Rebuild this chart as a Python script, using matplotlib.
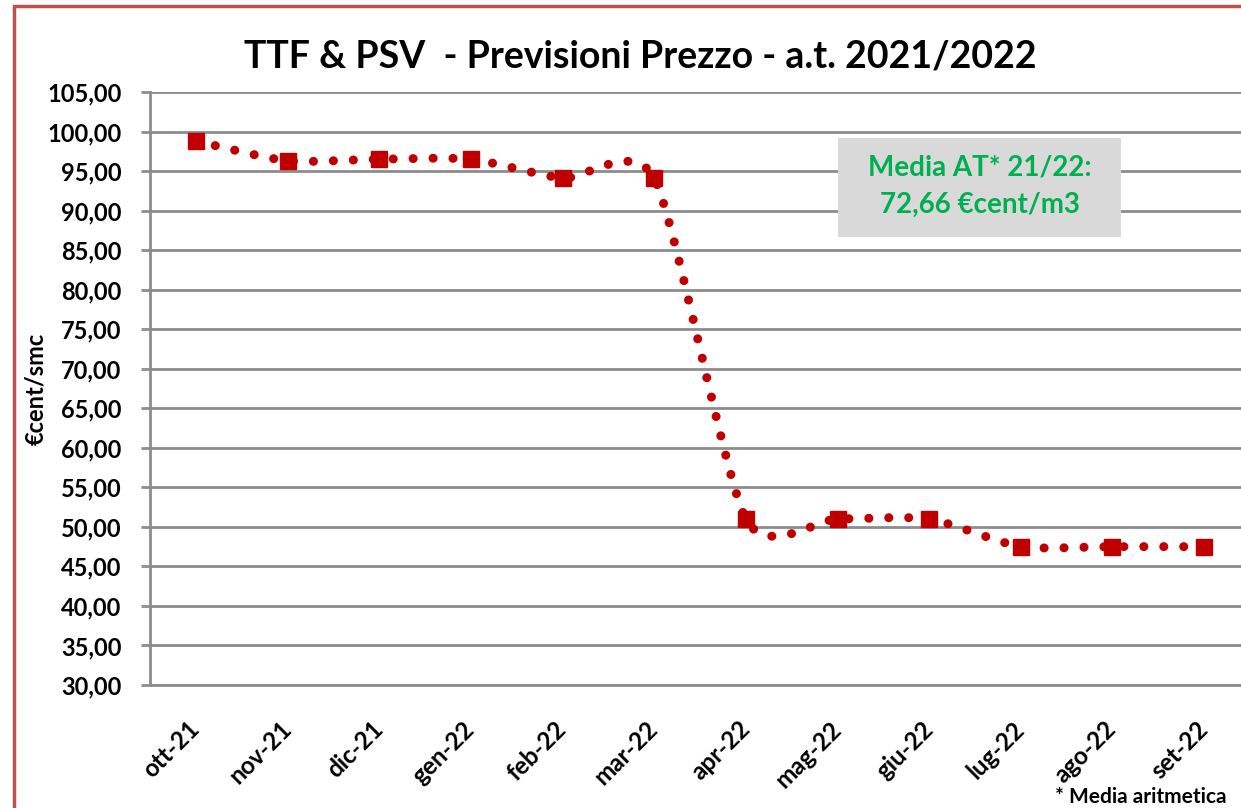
import matplotlib.pyplot as plt
from matplotlib.path import Path
from matplotlib.patches import PathPatch, Rectangle

months = ['ott-21', 'nov-21', 'dic-21', 'gen-22', 'feb-22', 'mar-22',
          'apr-22', 'mag-22', 'giu-22', 'lug-22', 'ago-22', 'set-22']
prezzo = [98.8, 96.3, 96.5, 96.5, 94.1, 94.1, 51.0, 51.0, 51.0, 47.5, 47.5, 47.5]
yticks = list(range(30, 106, 5))

red = '#C00000'
grey = '#8C8C8C'
plt.rcParams['font.family'] = ['Lato', 'DejaVu Sans']
plt.rcParams['font.weight'] = 'bold'


def smooth_path(xs, ys, k=0.115):
    # Excel-like smoothed line: bezier segments through each point
    n = len(xs)
    verts = [(xs[0], ys[0])]
    codes = [Path.MOVETO]
    for i in range(n - 1):
        x0, y0 = (xs[i - 1], ys[i - 1]) if i > 0 else (xs[i], ys[i])
        x3, y3 = (xs[i + 2], ys[i + 2]) if i + 2 < n else (xs[i + 1], ys[i + 1])
        c1 = (xs[i] + (xs[i + 1] - x0) * k, ys[i] + (ys[i + 1] - y0) * k)
        c2 = (xs[i + 1] - (x3 - xs[i]) * k, ys[i + 1] - (y3 - ys[i]) * k)
        verts += [c1, c2, (xs[i + 1], ys[i + 1])]
        codes += [Path.CURVE4] * 3
    return Path(verts, codes)


fig = plt.figure(figsize=(12.41, 8.08), dpi=100)
ax = fig.add_axes([150 / 1241, 123 / 808, 1100 / 1241, 593 / 808])

x = list(range(len(months)))
patch = PathPatch(smooth_path(x, prezzo), fill=False, edgecolor=red, lw=6.5,
                  linestyle=(0, (0.01, 2.2)), capstyle='round', zorder=3)
ax.add_patch(patch)
ax.plot(x, prezzo, linestyle='none', marker='s', markersize=12, color=red, zorder=4)

ax.set_xlim(-0.5, len(months) - 0.5)
ax.set_ylim(30, 105)
ax.set_yticks(yticks)
ax.set_yticklabels(['%d,00' % v for v in yticks], fontsize=17)
ax.set_xticks(x)
ax.set_xticklabels(months, fontsize=17.5, rotation=45, ha='right', va='center',
                   rotation_mode='anchor')
ax.tick_params(axis='x', length=0, pad=29)
ax.tick_params(axis='y', length=6.5, width=2, color=grey, pad=14)
ax.yaxis.grid(True, color=grey, lw=2)
ax.set_axisbelow(True)
for s in ['top', 'right']:
    ax.spines[s].set_visible(False)
for s in ['left', 'bottom']:
    ax.spines[s].set_color(grey)
    ax.spines[s].set_linewidth(2)
ax.set_ylabel('€cent/smc', fontsize=17, fontweight='bold', labelpad=0)

# text box with the yearly average
ax.add_patch(Rectangle((688 / 1100, 448 / 593), 283 / 1100, 99 / 593,
                       transform=ax.transAxes, facecolor='#D9D9D9',
                       edgecolor='none', zorder=5))
ax.text(830 / 1100, 498.5 / 593, 'Media AT* 21/22:\n72,66 €cent/m3',
        transform=ax.transAxes, ha='center', va='center', fontsize=20,
        color='#00B050', linespacing=1.55, zorder=6)

fig.text(640 / 1241, 1 - 67 / 808, 'TTF & PSV  - Previsioni Prezzo - a.t. 2021/2022',
         ha='center', va='baseline', fontsize=27)
fig.text(1055 / 1241, 1 - 803 / 808, '* Media aritmetica', ha='left', va='baseline',
         fontsize=15)

fig.patches.append(Rectangle((14 / 1241, -0.05), 1.2, 1 - 6 / 808 + 0.05,
                             transform=fig.transFigure, fill=False,
                             edgecolor='#C0504D', lw=2.5))

fig.savefig('out.png', dpi=100)
